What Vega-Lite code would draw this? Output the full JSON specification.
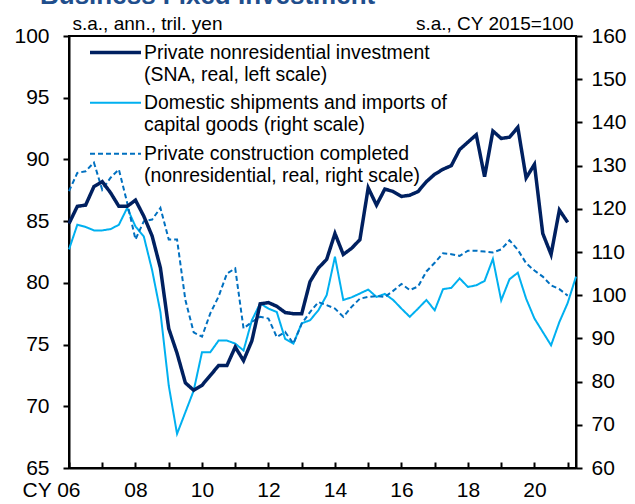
{
  "$schema": "https://vega.github.io/schema/vega-lite/v6.json",
  "width": 507,
  "height": 432,
  "autosize": {"type": "none"},
  "padding": {"left": 69, "top": 36, "right": 59, "bottom": 36},
  "title": {"text": "Business Fixed Investment", "frame": "group", "anchor": "start", "dx": -29, "offset": 0, "dy": 16, "baseline": "alphabetic", "fontSize": 26, "font": "Liberation Sans", "fontWeight": "bold", "color": "#1F4E8C"},
  "data": {"values": [
    {"t": 2006, "nonres": 84.8, "ship": 110.6, "constr": 124.1},
    {"t": 2006.25, "nonres": 86.2, "ship": 116.3, "constr": 128.3},
    {"t": 2006.5, "nonres": 86.3, "ship": 115.8, "constr": 128.7},
    {"t": 2006.75, "nonres": 87.8, "ship": 115.0, "constr": 130.7},
    {"t": 2007, "nonres": 88.2, "ship": 115.0, "constr": 124.4},
    {"t": 2007.25, "nonres": 87.3, "ship": 115.3, "constr": 127.2},
    {"t": 2007.5, "nonres": 86.2, "ship": 116.3, "constr": 129.1},
    {"t": 2007.75, "nonres": 86.2, "ship": 120.2, "constr": 121.4},
    {"t": 2008, "nonres": 86.7, "ship": 115.9, "constr": 112.9},
    {"t": 2008.25, "nonres": 85.4, "ship": 113.6, "constr": 117.1},
    {"t": 2008.5, "nonres": 83.8, "ship": 105.8, "constr": 117.5},
    {"t": 2008.75, "nonres": 81.2, "ship": 96.1, "constr": 120.2},
    {"t": 2009, "nonres": 76.3, "ship": 79.1, "constr": 112.9},
    {"t": 2009.25, "nonres": 74.3, "ship": 67.9, "constr": 112.9},
    {"t": 2009.5, "nonres": 71.9, "ship": 72.9, "constr": 98.9},
    {"t": 2009.75, "nonres": 71.3, "ship": 77.9, "constr": 91.4},
    {"t": 2010, "nonres": 71.7, "ship": 86.8, "constr": 90.4},
    {"t": 2010.25, "nonres": 72.5, "ship": 86.8, "constr": 95.8},
    {"t": 2010.5, "nonres": 73.3, "ship": 89.5, "constr": 99.7},
    {"t": 2010.75, "nonres": 73.3, "ship": 89.5, "constr": 105.0},
    {"t": 2011, "nonres": 74.8, "ship": 88.8, "constr": 106.2},
    {"t": 2011.25, "nonres": 73.7, "ship": 87.2, "constr": 92.3},
    {"t": 2011.5, "nonres": 75.3, "ship": 94.2, "constr": 93.8},
    {"t": 2011.75, "nonres": 78.3, "ship": 98.1, "constr": 95.0},
    {"t": 2012, "nonres": 78.4, "ship": 96.9, "constr": 94.6},
    {"t": 2012.25, "nonres": 78.1, "ship": 96.1, "constr": 90.3},
    {"t": 2012.5, "nonres": 77.6, "ship": 89.9, "constr": 91.5},
    {"t": 2012.75, "nonres": 77.5, "ship": 88.8, "constr": 88.8},
    {"t": 2013, "nonres": 77.5, "ship": 93.5, "constr": 93.4},
    {"t": 2013.25, "nonres": 80.1, "ship": 94.2, "constr": 96.1},
    {"t": 2013.5, "nonres": 81.2, "ship": 96.5, "constr": 98.4},
    {"t": 2013.75, "nonres": 81.9, "ship": 100.0, "constr": 97.7},
    {"t": 2014, "nonres": 84.0, "ship": 108.9, "constr": 96.9},
    {"t": 2014.25, "nonres": 82.3, "ship": 98.9, "constr": 95.0},
    {"t": 2014.5, "nonres": 82.8, "ship": 99.5, "constr": 97.3},
    {"t": 2014.75, "nonres": 83.5, "ship": 100.4, "constr": 99.2},
    {"t": 2015, "nonres": 87.7, "ship": 101.3, "constr": 99.6},
    {"t": 2015.25, "nonres": 86.3, "ship": 99.6, "constr": 99.8},
    {"t": 2015.5, "nonres": 87.6, "ship": 100.3, "constr": 99.6},
    {"t": 2015.75, "nonres": 87.4, "ship": 98.9, "constr": 101.0},
    {"t": 2016, "nonres": 87.0, "ship": 96.9, "constr": 102.6},
    {"t": 2016.25, "nonres": 87.1, "ship": 95.0, "constr": 101.2},
    {"t": 2016.5, "nonres": 87.4, "ship": 96.9, "constr": 102.0},
    {"t": 2016.75, "nonres": 88.2, "ship": 98.9, "constr": 105.5},
    {"t": 2017, "nonres": 88.8, "ship": 96.5, "constr": 107.5},
    {"t": 2017.25, "nonres": 89.2, "ship": 101.4, "constr": 109.7},
    {"t": 2017.5, "nonres": 89.5, "ship": 101.7, "constr": 109.5},
    {"t": 2017.75, "nonres": 90.8, "ship": 103.9, "constr": 109.1},
    {"t": 2018, "nonres": 91.4, "ship": 101.9, "constr": 110.3},
    {"t": 2018.25, "nonres": 92.0, "ship": 102.3, "constr": 110.3},
    {"t": 2018.5, "nonres": 88.6, "ship": 103.3, "constr": 110.1},
    {"t": 2018.75, "nonres": 92.3, "ship": 108.4, "constr": 109.9},
    {"t": 2019, "nonres": 91.7, "ship": 98.8, "constr": 110.6},
    {"t": 2019.25, "nonres": 91.8, "ship": 103.7, "constr": 112.7},
    {"t": 2019.5, "nonres": 92.6, "ship": 105.2, "constr": 110.5},
    {"t": 2019.75, "nonres": 88.5, "ship": 99.2, "constr": 107.4},
    {"t": 2020, "nonres": 89.6, "ship": 94.6, "constr": 105.7},
    {"t": 2020.25, "nonres": 84.0, "ship": 91.5, "constr": 104.3},
    {"t": 2020.5, "nonres": 82.3, "ship": 88.4, "constr": 102.3},
    {"t": 2020.75, "nonres": 85.9, "ship": 93.8, "constr": 101.4},
    {"t": 2021, "nonres": 84.9, "ship": 98.2, "constr": 99.9},
    {"t": 2021.25, "nonres": null, "ship": 104.3, "constr": null}
  ]},
  "transform": [
    {"fold": ["nonres", "ship", "constr"], "as": ["series", "value"]},
    {"filter": "isValid(datum.value)"}
  ],
  "encoding": {
    "x": {
      "field": "t", "type": "quantitative",
      "scale": {"domain": [2006, 2021.25], "nice": false, "zero": false},
      "axis": {
        "title": null,
        "values": [2006, 2007, 2008, 2009, 2010, 2011, 2012, 2013, 2014, 2015, 2016, 2017, 2018, 2019, 2020, 2021],
        "labelExpr": "datum.value % 2 ? '' : (datum.value == 2006 ? 'CY 06' : format(datum.value % 100, '02d'))",
        "tickSize": -6,
        "labelPadding": 17,
        "labelFlush": false,
        "labelOverlap": false,
        "labelOffset": {"condition": {"test": "datum.value == 2006", "value": -18}, "value": 0}
      }
    },
    "color": {
      "field": "series", "type": "nominal",
      "scale": {"domain": ["nonres", "ship", "constr"], "range": ["#002060", "#00B0F0", "#0070C0"]},
      "legend": {"title": null, "labelExpr": "datum.value == 'nonres' ? ['Private nonresidential investment', '(SNA, real, left scale)'] : datum.value == 'ship' ? ['Domestic shipments and imports of', 'capital goods (right scale)'] : ['Private construction completed', '(nonresidential, real, right scale)']"}
    },
    "strokeDash": {
      "field": "series", "type": "nominal",
      "scale": {"domain": ["nonres", "ship", "constr"], "range": [[1, 0], [1, 0], [5, 3]]},
      "legend": {"title": null, "labelExpr": "datum.value == 'nonres' ? ['Private nonresidential investment', '(SNA, real, left scale)'] : datum.value == 'ship' ? ['Domestic shipments and imports of', 'capital goods (right scale)'] : ['Private construction completed', '(nonresidential, real, right scale)']"}
    },
    "strokeWidth": {
      "field": "series", "type": "nominal",
      "scale": {"type": "ordinal", "domain": ["nonres", "ship", "constr"], "range": [3.5, 2, 2]},
      "legend": {"title": null, "labelExpr": "datum.value == 'nonres' ? ['Private nonresidential investment', '(SNA, real, left scale)'] : datum.value == 'ship' ? ['Domestic shipments and imports of', 'capital goods (right scale)'] : ['Private construction completed', '(nonresidential, real, right scale)']"}
    }
  },
  "layer": [
    {
      "transform": [{"filter": "datum.series != 'nonres'"}],
      "mark": {"type": "line"},
      "encoding": {
        "y": {
          "field": "value", "type": "quantitative",
          "scale": {"domain": [60, 160], "nice": false, "zero": false},
          "axis": {
            "orient": "right",
            "values": [60, 70, 80, 90, 100, 110, 120, 130, 140, 150, 160],
            "tickSize": 6,
            "labelPadding": 9,
            "title": "s.a., CY 2015=100",
            "titleAngle": 0, "titleAlign": "right", "titleBaseline": "alphabetic",
            "titleX": -3, "titleY": -7
          }
        }
      }
    },
    {
      "transform": [{"filter": "datum.series == 'nonres'"}],
      "mark": {"type": "line"},
      "encoding": {
        "y": {
          "field": "value", "type": "quantitative",
          "scale": {"domain": [65, 100], "nice": false, "zero": false},
          "axis": {
            "orient": "left",
            "values": [65, 70, 75, 80, 85, 90, 95, 100],
            "tickSize": 6,
            "labelPadding": 14,
            "title": "s.a., ann., tril. yen",
            "titleAngle": 0, "titleAlign": "left", "titleBaseline": "alphabetic",
            "titleX": 3, "titleY": -7
          }
        }
      }
    }
  ],
  "resolve": {"scale": {"y": "independent"}},
  "config": {
    "font": "Liberation Sans",
    "view": {"stroke": "black", "strokeWidth": 2},
    "axis": {
      "grid": false,
      "domainColor": "black", "domainWidth": 2,
      "tickColor": "black", "tickWidth": 2,
      "labelColor": "black", "labelFontSize": 21, "labelFont": "Liberation Sans",
      "titleColor": "black", "titleFontSize": 19, "titleFontWeight": "normal", "titleFont": "Liberation Sans",
      "labelFlush": false
    },
    "legend": {
      "orient": "none", "legendX": 10.5, "legendY": 6,
      "symbolType": "M0,0H6", "symbolSize": 289,
      "labelFontSize": 19.4, "labelColor": "black", "labelFont": "Liberation Sans",
      "labelLimit": 0, "labelOffset": 43.5, "rowPadding": 8, "padding": 0,
      "labelBaseline": "middle"
    },
    "style": {"guide-label": {"lineHeight": 22}}
  }
}
